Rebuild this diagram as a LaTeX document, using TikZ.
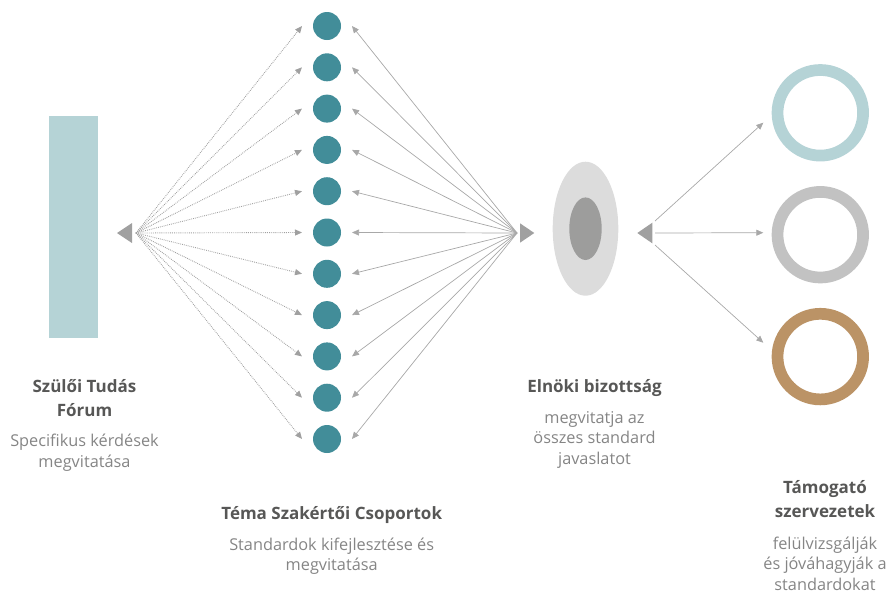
\documentclass[tikz,border=0pt]{standalone}
\usepackage{fontspec}
\setmainfont{Open Sans}
\usetikzlibrary{arrows.meta,shapes.geometric}
\definecolor{tealdot}{HTML}{428D99}
\definecolor{paleblue}{HTML}{B5D3D6}
\definecolor{ringgray}{HTML}{C2C2C2}
\definecolor{ringgold}{HTML}{BB9366}
\definecolor{lightell}{HTML}{DCDCDC}
\definecolor{darkell}{HTML}{9D9D9C}
\definecolor{linegray}{HTML}{A8A8A8}
\definecolor{trigray}{HTML}{A0A0A0}
\definecolor{headcol}{HTML}{575756}
\definecolor{subcol}{HTML}{858585}
\begin{document}
\begin{tikzpicture}[x=1pt,y=-1pt,
  tealdisc/.style={circle, fill=tealdot, minimum size=28pt, inner sep=0pt},
  ringnode/.style={circle, draw=#1, line width=11.7pt, minimum size=85.6pt, inner sep=0pt},
  tipstyle/.style={-{Triangle[length=7pt,width=6pt]}},
  dotarrow/.style={tipstyle, draw=trigray, line width=0.9pt, dash pattern=on 0.8pt off 1.1pt},
  solidarrow/.style={tipstyle, draw=linegray, line width=0.7pt},
  headtext/.style={font=\fontsize{17}{23.5}\selectfont\bfseries, text=headcol, align=center, inner sep=0pt, anchor=base},
  subtext/.style={font=\fontsize{16.3}{20.5}\selectfont, text=subcol, align=center, inner sep=0pt, anchor=base}]
\useasboundingbox (0,0) rectangle (891,595);
% left bar
\node[fill=paleblue, minimum width=49pt, minimum height=222pt, inner sep=0pt, anchor=north west] (forum) at (49,116) {};
% left triangle
\fill[trigray] (117,233) -- (132,223) -- (132,243) -- cycle;
\coordinate (fanL) at (136,233);
% middle triangle
\fill[trigray] (534.3,233) -- (520,223.3) -- (520,242.7) -- cycle;
\coordinate (fanM) at (517,233);
% teal circles and arrows
\foreach \i in {1,...,11}{
  \pgfmathsetmacro{\yy}{26+41.3*(\i-1)}
  \node[tealdisc] (c\i) at (327,\yy) {};
  \coordinate (inL\i) at (302,\yy);
  \coordinate (inR\i) at (352,\yy);
  \draw[dotarrow] (fanL) -- (inL\i);
  \draw[solidarrow] (fanM) -- (inR\i);
}
% ellipse
\node[ellipse, fill=lightell, minimum width=65.6pt, minimum height=134pt, inner sep=0pt] (elnok) at (585.5,228.7) {};
\node[ellipse, fill=darkell, minimum width=32.4pt, minimum height=62.6pt, inner sep=0pt] (elnokin) at (elnok.center) {};
% right triangle
\fill[trigray] (637.3,233) -- (652.3,222.7) -- (652.3,243.3) -- cycle;
% rings
\node[ringnode=paleblue] (r1) at (820.3,112.8) {};
\node[ringnode=ringgray] (r2) at (820.3,234.7) {};
\node[ringnode=ringgold] (r3) at (820.3,356.6) {};
\coordinate (fanR1) at (655,221);
\coordinate (fanR2) at (655,233);
\coordinate (fanR3) at (655,245);
\coordinate (tipR1) at (763.3,122.7);
\coordinate (tipR2) at (763.3,232.7);
\coordinate (tipR3) at (763.3,342.7);
\foreach \i in {1,2,3}{\draw[solidarrow] (fanR\i) -- (tipR\i);}
% texts (anchor base = baseline of last line)
\node[headtext] (forumT) at (84.5,416) {Szülői Tudás\\Fórum};
\node[subtext] (forumS) at (84.5,467) {Specifikus kérdések\\megvitatása};
\node[headtext] (temaT) at (331.7,519) {Téma Szakértői Csoportok};
\node[subtext] (temaS) at (331.7,570.7) {Standardok kifejlesztése és\\megvitatása};
\node[headtext] (elnokT) at (594.5,392.3) {Elnöki bizottság};
\node[subtext] (elnokS) at (594.5,464) {megvitatja az\\összes standard\\javaslatot};
\node[headtext] (tamT) at (825,517.3) {Támogató\\szervezetek};
\node[subtext] (tamS) at (825,590) {felülvizsgálják\\és jóváhagyják a\\standardokat};
\end{tikzpicture}
\end{document}
